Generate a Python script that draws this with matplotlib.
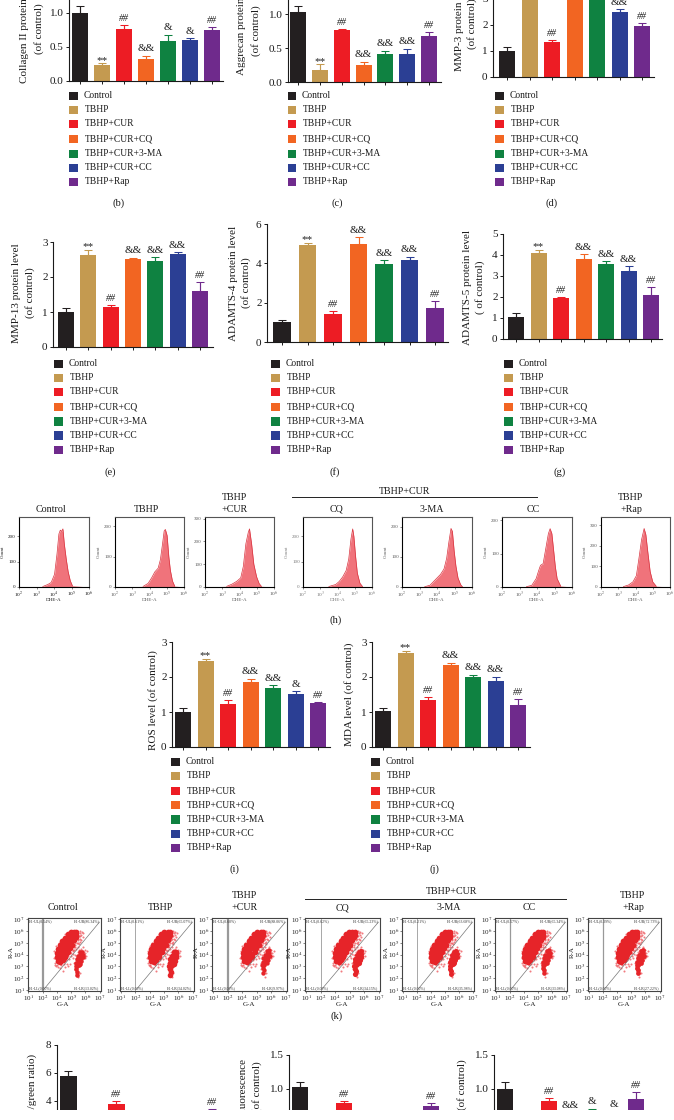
import matplotlib
matplotlib.use("Agg")
import matplotlib.pyplot as plt
from matplotlib.patches import Rectangle
from matplotlib.lines import Line2D

plt.rcParams['font.family'] = ['Liberation Serif', 'DejaVu Serif']
plt.rcParams['mathtext.fontset'] = 'stix'

W, H = 674, 1120

GROUPS = ["Control", "TBHP", "TBHP+CUR", "TBHP+CUR+CQ", "TBHP+CUR+3-MA", "TBHP+CUR+CC", "TBHP+Rap"]
COLORS = ["#231F20", "#C49A50", "#ED1C24", "#F26522", "#0F8241", "#2B3F94", "#6F2A8C"]

# bar values / error values
collagen = [1.0, .23, .77, .33, .59, .61, .75]
collagen_err = [.10, .03, .05, .04, .09, .02, .05]
aggrecan = [1.03, .18, .76, .25, .41, .41, .68]
aggrecan_err = [.09, .08, .02, .05, .05, .08, .05]
mmp3 = [1.0, 3.7, 1.32, 3.8, 3.6, 2.48, 1.95]
mmp3_err = [.14, .2, .1, .2, .2, .1, .1]
mmp13 = [1.0, 2.64, 1.13, 2.52, 2.47, 2.66, 1.6]
mmp13_err = [.11, .14, .08, .03, .09, .05, .26]
adamts4 = [1.0, 4.92, 1.41, 4.98, 3.98, 4.15, 1.75]
adamts4_err = [.12, .11, .17, .34, .17, .19, .33]
adamts5 = [1.03, 4.08, 1.93, 3.82, 3.55, 3.22, 2.1]
adamts5_err = [.21, .17, .09, .22, .16, .25, .37]
ros = [1.0, 2.46, 1.23, 1.86, 1.70, 1.52, 1.25]
ros_err = [.11, .06, .10, .09, .06, .07, .05]
mda = [1.02, 2.68, 1.33, 2.33, 2.01, 1.89, 1.19]
mda_err = [.09, .06, .11, .08, .06, .11, .17]
ratio = [5.8, 1.5, 3.79, 1.8, 2.0, 2.2, 3.3]
ratio_err = [.34, .2, .24, .2, .2, .2, .16]
fluor = [1.034, .45, .79, .5, .55, .6, .745]
fluor_err = [.073, .05, .03, .05, .05, .05, .055]
last = [1.0, .4, .82, .6, .68, .62, .86]
last_err = [.10, .05, .05, .05, .03, .05, .09]

sig_std = ['', '**', '##', '&&', '&&', '&&', '##']
sig_b = ['', '**', '##', '&&', '&', '&', '##']
sig_d = ['', '', '##', '', '', '&&', '##']
sig_i = ['', '**', '##', '&&', '&&', '&', '##']
sig_l = ['', '', '##', '', '', '', '##']
sig_n = ['', '', '##', '&&', '&', '&', '##']

# flow cytometry histograms: log10 fluorescence and counts
hist_x_control = [3.36, 3.65, 3.84, 4.03, 4.17, 4.28, 4.36, 4.43, 4.51, 4.59, 4.70, 4.81, 4.93, 5.05]
hist_y_control = [2, 10, 18, 50, 130, 210, 225, 220, 230, 170, 110, 60, 25, 5]
hist_x_tbhp = [3.63, 3.92, 4.12, 4.31, 4.5, 4.63, 4.75, 4.85, 4.92, 5.02, 5.12, 5.21, 5.33, 5.46]
hist_y_tbhp = [2, 12, 30, 50, 62, 90, 140, 185, 190, 170, 100, 55, 20, 3]
hist_x_cur = [3.26, 3.55, 3.84, 4.07, 4.22, 4.37, 4.51, 4.58, 4.7, 4.83, 4.99, 5.14, 5.27]
hist_y_cur = [3, 12, 25, 40, 90, 190, 240, 255, 190, 100, 45, 15, 3]
hist_x_cq = [3.5, 3.9, 4.1, 4.3, 4.5, 4.65, 4.78, 4.88, 4.95, 5.05, 5.15, 5.3, 5.45]
hist_y_cq = [2, 10, 22, 40, 65, 110, 190, 230, 200, 120, 55, 15, 2]
hist_x_ma = [3.3, 3.6, 4.0, 4.2, 4.4, 4.55, 4.68, 4.8, 4.88, 4.98, 5.08, 5.2, 5.35, 5.45]
hist_y_ma = [1, 6, 30, 42, 60, 95, 150, 195, 185, 120, 70, 30, 8, 1]
hist_x_cc = [3.4, 3.7, 3.95, 4.1, 4.2, 4.35, 4.5, 4.65, 4.75, 4.85, 4.95, 5.05, 5.15, 5.35]
hist_y_cc = [1, 5, 25, 50, 65, 70, 115, 160, 175, 160, 110, 60, 25, 3]
hist_x_rap = [3.3, 3.6, 3.85, 4.05, 4.2, 4.35, 4.5, 4.6, 4.7, 4.85, 5.0, 5.2]
hist_y_rap = [2, 10, 25, 55, 140, 230, 285, 255, 180, 75, 25, 4]
hist_ticks_y = [[0, 100, 200], [0, 100, 200], [0, 100, 200, 300], [0, 100, 200],
                [0, 100, 200], [0, 100, 200], [0, 100, 200, 300]]
hist_ymax = [277, 231, 307, 277, 233, 210, 341]
hist_ticks_x = [2, 3, 4, 5, 6]
hist_tick_labels = ["10$^{2}$", "10$^{3}$", "10$^{4}$", "10$^{5}$", "10$^{6}$"]

# JC-1 dot plots: representative events
core_u = [3.05, 3.25, 3.42,
          2.98, 3.2, 3.4, 3.58,
          2.98, 3.2, 3.42, 3.62, 3.78,
          3.05, 3.28, 3.5, 3.72, 3.9,
          3.2, 3.42, 3.64, 3.86, 4.06,
          3.38, 3.6, 3.82, 4.02, 4.2,
          3.55, 3.76, 3.98, 4.18, 4.32,
          3.76, 3.98, 4.2, 4.36,
          3.98, 4.2, 4.36]
core_y = [3.45, 3.4, 3.5,
          3.75, 3.72, 3.78, 3.8,
          4.1, 4.05, 4.12, 4.08, 4.2,
          4.48, 4.42, 4.5, 4.45, 4.55,
          4.8, 4.78, 4.85, 4.8, 4.85,
          5.12, 5.1, 5.18, 5.12, 5.2,
          5.42, 5.4, 5.45, 5.42, 5.5,
          5.72, 5.7, 5.75, 5.7,
          5.95, 5.95, 5.9]
halo_u = [2.85, 2.9, 2.95, 3.0, 3.05, 3.2, 3.5, 3.65, 3.75, 3.95, 4.1, 4.25, 4.35, 4.5, 4.6, 4.75, 4.45,
          4.2, 4.6, 3.9, 3.6, 3.35, 3.15, 2.95, 4.8, 4.85, 4.9, 5.0, 4.7, 4.55, 4.95, 4.3, 4.2, 4.25, 4.4,
          4.6, 4.5, 3.4, 4.1, 3.9, 4.85, 4.4, 4.65, 4.3, 4.15, 2.9, 3.1, 3.8, 4.0, 4.5,
          4.42, 4.52, 4.62, 4.72, 4.82, 4.5, 4.6, 4.7, 4.4, 4.5, 4.35, 4.45, 4.3, 4.2, 4.1, 4.55, 4.75, 4.95,
          2.8, 2.82, 2.88, 3.0, 3.3, 3.55, 3.7, 3.85, 4.0, 4.15, 5.05, 5.1]
halo_y = [3.3, 4.0, 3.0, 4.4, 2.95, 2.9, 3.2, 3.5, 3.9, 4.4, 4.8, 5.0, 5.5, 5.8, 6.0, 5.95, 5.2,
          4.4, 5.6, 6.0, 5.75, 5.35, 5.0, 4.7, 4.6, 4.2, 3.9, 4.1, 4.45, 4.9, 4.4, 4.0, 3.3, 2.8, 2.5,
          2.4, 2.1, 2.6, 3.7, 3.2, 5.8, 5.6, 5.3, 4.6, 4.3, 3.6, 3.3, 3.0, 4.1, 5.0,
          5.75, 5.55, 5.85, 5.65, 5.5, 5.35, 5.05, 5.25, 4.95, 4.65, 4.45, 4.25, 4.85, 4.6, 4.4, 4.35, 4.3, 3.7,
          3.7, 4.3, 3.1, 3.15, 3.1, 2.95, 3.2, 3.65, 3.85, 4.05, 3.85, 4.3]
low_u = [4.32, 4.42, 4.52, 4.62, 4.35, 4.47, 4.6, 4.72, 4.4, 4.55, 4.68, 4.82, 4.5, 4.65, 4.8, 4.62, 4.76, 4.36, 4.42, 4.4]
low_y = [3.0, 3.05, 3.15, 3.2, 3.3, 3.35, 3.42, 3.45, 3.6, 3.65, 3.7, 3.75, 3.9, 3.95, 4.0, 4.2, 4.25, 2.75, 2.55, 2.3]
panel_du = [0.0, 0.05, 0.08, 0.0, 0.05, 0.05, 0.05]
low_dy = [0.0, 0.0, 0.1, 0.05, 0.05, 0.1, 0.1]
quad_ul = ["0.54", "0.61", "0.60", "0.62", "0.21", "0.57", "0.39"]
quad_ur = ["86.34", "65.07", "88.06", "65.23", "63.68", "65.34", "72.73"]
quad_ll = ["0.00", "0.00", "0.00", "0.00", "0.00", "0.00", "0.00"]
quad_lr = ["13.02", "34.02", "9.97", "34.15", "35.98", "33.08", "27.22"]
dot_x_ticks = [1, 2, 3, 4, 5, 6]
dot_x_labels = ["10$^{1}$", "10$^{2}$", "10$^{4}$", "10$^{5}$", "10$^{6}$", "10$^{7}$"]
dot_y_ticks = [1, 2, 3, 4, 5, 6, 7]

fig = plt.figure(figsize=(W / 100, H / 100), dpi=100, facecolor='white')


def T(x, y, s, size=7.3, ha='center', va='center', **kw):
    return fig.text(x / W, 1 - y / H, s, fontsize=size, ha=ha, va=va, color=kw.pop('color', '#1a1a1a'), **kw)


def px_axes(x0, x1, ytop, ybot):
    return fig.add_axes([x0 / W, 1 - ybot / H, (x1 - x0) / W, (ybot - ytop) / H])


def legend(xm, xt, rows):
    for i, (g, c, y) in enumerate(zip(GROUPS, COLORS, rows)):
        fig.add_artist(Rectangle((xm / W, 1 - (y + 4.2) / H), 8.5 / W, 8.4 / H, transform=fig.transFigure,
                                 facecolor=c, edgecolor='none'))
        T(xt - (1.3 if i == 0 else 0), y, g, size=6.85, ha='left')


def barpanel(values, errors, sig, left, right, c0, c6, ytop, ybot, ymax, ticks, fmt, bw=16):
    ax = px_axes(left, right, ytop, ybot)
    sp = (c6 - c0) / 6
    ax.set_xlim((left - c0) / sp, (right - c0) / sp)
    ax.set_ylim(0, ymax)
    x = list(range(7))
    ax.bar(x, values, width=bw / sp, color=COLORS, edgecolor='none', zorder=2)
    for xi, v, e, c in zip(x, values, errors, COLORS):
        ax.errorbar([xi], [v], yerr=[[0], [e]], fmt='none', ecolor=c, elinewidth=0.85,
                    capsize=2.9, capthick=0.75, zorder=1)
    for s in ('top', 'right'):
        ax.spines[s].set_visible(False)
    for s in ('left', 'bottom'):
        ax.spines[s].set_linewidth(0.8)
        ax.spines[s].set_color('#1a1a1a')
    ax.set_xticks(x)
    ax.set_xticklabels([])
    ax.set_yticks(ticks)
    ax.set_yticklabels([fmt.format(t) for t in ticks], fontsize=8)
    ax.tick_params(axis='both', length=2.4, width=0.7, pad=1.5, colors='#1a1a1a')
    ax.patch.set_alpha(0)
    for i, s in enumerate(sig):
        if not s:
            continue
        off = {'**': 3.2, '##': 6.5, '&&': 7, '&': 7}[s]
        size = {'**': 8, '##': 7.2, '&&': 8, '&': 8}[s]
        ax.annotate(s, (i, values[i] + errors[i]), xytext=(0, off * 0.72), textcoords='offset points',
                    ha='center', va='center', fontsize=size,
                    style='italic' if s == '##' else 'normal', color='#222222')
    return ax


# ---- top row
barpanel(collagen, collagen_err, sig_b, 69, 223, 80, 212, -21, 81, 1.5, [0, .5, 1.0, 1.5], "{:.1f}")
barpanel(aggrecan, aggrecan_err, sig_std, 288, 441, 298, 429, -20, 82, 1.5, [0, .5, 1.0, 1.5], "{:.1f}")
barpanel(mmp3, mmp3_err, sig_d, 493, 654, 507, 642, -28, 77, 4, [0, 1, 2, 3, 4], "{:d}")
rows_top = [96, 110, 124, 139, 154, 168, 182]
legend(69, 85, rows_top)
legend(287.5, 303, rows_top)
legend(495, 511, rows_top)
T(119, 203, "(b)", 7.6)
T(337, 203, "(c)", 7.6)
T(552, 203, "(d)", 7.6)
T(25, 28, "Collagen II protein level", 8, rotation=90)
T(39, 29, "(of control)", 8, rotation=90)
T(242, 24, "Aggrecan protein level", 8, rotation=90)
T(256, 31, "(of control)", 8, rotation=90)
T(460, 24, "MMP-3 protein level", 8, rotation=90)
T(472, 24, "(of control)", 8, rotation=90)

# ---- second row
barpanel(mmp13, mmp13_err, sig_std, 53, 213, 66, 200, 242, 347, 3, [0, 1, 2, 3], "{:d}")
barpanel(adamts4, adamts4_err, sig_std, 267, 448, 282, 435, 224, 342, 6, [0, 2, 4, 6], "{:d}", bw=17.5)
barpanel(adamts5, adamts5_err, sig_std, 503, 662, 516, 651, 234, 339, 5, [0, 1, 2, 3, 4, 5], "{:d}")
rows_mid = [364, 378, 392, 407, 421.5, 435.5, 450]
legend(54, 70, rows_mid)
legend(271, 287, rows_mid)
legend(504, 520, rows_mid)
T(110, 472, "(e)", 7.6)
T(335, 472, "(f)", 7.6)
T(560, 472, "(g)", 7.6)
T(17, 293, "MMP-13 protein level", 8, rotation=90)
T(30, 293, "(of control)", 8, rotation=90)
T(233, 283, "ADAMTS-4 protein level", 8, rotation=90)
T(246, 283, "(of control)", 8, rotation=90)
T(467, 287, "ADAMTS-5 protein level", 8, rotation=90)
T(480, 287, "( of control)", 8, rotation=90)

# ---- histograms
hist_boxes = [(19, 89), (115, 184), (205, 274), (303, 372), (402, 472), (502, 572), (601, 670)]
hist_x = [hist_x_control, hist_x_tbhp, hist_x_cur, hist_x_cq, hist_x_ma, hist_x_cc, hist_x_rap]
hist_y = [hist_y_control, hist_y_tbhp, hist_y_cur, hist_y_cq, hist_y_ma, hist_y_cc, hist_y_rap]
hist_text = ['#111111', '#555555', '#555555', '#777777', '#555555', '#555555', '#555555']
for (x0, x1), hx, hy, yt, ym, tc in zip(hist_boxes, hist_x, hist_y, hist_ticks_y, hist_ymax, hist_text):
    ax = px_axes(x0, x1, 517, 587)
    ax.fill_between([2] + hx + [6], [0] + hy + [0], color='#F0737B', linewidth=0)
    ax.plot(hx, hy, color='#D9333F', lw=0.5)
    ax.set_xlim(2, 6)
    ax.set_ylim(0, ym)
    ax.set_xticks(hist_ticks_x)
    ax.set_xticklabels(hist_tick_labels, fontsize=3.8, color=tc)
    ax.set_yticks(yt)
    ax.set_yticklabels([str(t) for t in yt], fontsize=3.6, color=tc)
    ax.tick_params(length=1.5, width=0.4, pad=0.8, colors='#333333')
    for lab in ax.get_xticklabels() + ax.get_yticklabels():
        lab.set_color(tc)
    for s in ax.spines.values():
        s.set_linewidth(0.8)
    for s in ('top', 'right'):
        ax.spines[s].set_color('#555555')
    T(x0 - 16, 552, "Count", 3.6, rotation=90, color=tc)
    T((x0 + x1) / 2, 600, "DHE-A", 3.6, color=tc)

for x, y, s in [(51, 509, "Control"), (146, 509, "TBHP"), (235, 497, "TBHP"), (235, 509, "+CUR"),
                (337, 509, "CQ"), (432, 509, "3-MA"), (533, 509, "CC"), (631, 497, "TBHP"), (631, 509, "+Rap"),
                (405, 491, "TBHP+CUR")]:
    T(x, y, s, 7.2)
fig.add_artist(Line2D([292 / W, 537 / W], [1 - 497 / H] * 2, color='#222222', lw=0.7))
T(336, 620, "(h)", 7.6)

# ---- ROS / MDA
barpanel(ros, ros_err, sig_i, 172, 330, 183, 318, 642, 747, 3, [0, 1, 2, 3], "{:d}")
barpanel(mda, mda_err, sig_std, 372, 530, 383, 518, 642, 747, 3, [0, 1, 2, 3], "{:d}")
rows_low = [762, 776, 791, 805, 819.5, 834, 848]
legend(171, 187, rows_low)
legend(371, 387, rows_low)
T(234, 869, "(i)", 7.6)
T(434, 869, "(j)", 7.6)
T(153, 700, "ROS level (of control)", 8, rotation=90)
T(349, 694, "MDA level (of control)", 8, rotation=90)

# ---- dot plots
dot_boxes = [(27.5, 101), (120, 194), (212, 287), (305, 380), (402, 474), (495, 567), (588, 661)]
vline_w = [1.6, 0.6, 1.6, 0.6, 0.6, 0.9, 0.9]
low_size = [11, 16, 10, 14, 13, 11, 12]
for i, (x0, x1) in enumerate(dot_boxes):
    ax = px_axes(x0, x1, 918, 990.5)
    d = panel_du[i]
    ax.scatter([u + d for u in halo_u], halo_y, s=2.2, color='#EE5A60', linewidths=0, alpha=0.8)
    ax.scatter([u + d for u in core_u], core_y, s=17, color='#E62429', linewidths=0)
    ax.scatter([u + d for u in low_u], [y + low_dy[i] for y in low_y], s=low_size[i], color='#E62429', linewidths=0)
    ax.axvline(2.0, color='#999999', lw=vline_w[i])
    ax.plot([2.08, 5.99], [1.05, 6.75], color='#777777', lw=0.5)
    ax.set_xlim(0.93, 6.1)
    ax.set_ylim(0.95, 7.1)
    ax.set_xticks(dot_x_ticks)
    ax.set_xticklabels(dot_x_labels, fontsize=5)
    ax.set_yticks(dot_y_ticks)
    ax.set_yticklabels([f"10$^{{{t}}}$" for t in dot_y_ticks], fontsize=5)
    ax.tick_params(length=1.3, width=0.4, pad=0.8, colors='#222222')
    for s in ax.spines.values():
        s.set_linewidth(0.8)
        s.set_color('#444444')
    for txt, xx, yy, ha in [(f"H1-UL({quad_ul[i]}%)", 1.03, 6.82, 'left'), (f"H1-UR({quad_ur[i]}%)", 6.0, 6.82, 'right'),
                            (f"H1-LL({quad_ll[i]}%)", 1.03, 1.13, 'left'), (f"H1-LR({quad_lr[i]}%)", 6.0, 1.13, 'right')]:
        ax.text(xx, yy, txt, fontsize=2.8, ha=ha, va='center', color='#333333')
    T(x0 - 16, 952, "R-A", 5, rotation=90)
    T((x0 + x1) / 2 - 1, 1005, "G-A", 5)

for x, y, s in [(63, 908, "Control"), (161, 908, "TBHP"), (245, 895, "TBHP"), (245, 908, "+CUR"),
                (343, 908, "CQ"), (449, 908, "3-MA"), (529, 908, "CC"), (633, 895, "TBHP"), (633, 908, "+Rap"),
                (452, 891, "TBHP+CUR")]:
    T(x, y, s, 7.2)
fig.add_artist(Line2D([305 / W, 566 / W], [1 - 899 / H] * 2, color='#222222', lw=0.7))
T(337, 1016, "(k)", 7.6)

# ---- bottom row, cut by the page edge
barpanel(ratio, ratio_err, sig_l, 57, 224, 68, 212, 1045, 1157, 8, [0, 2, 4, 6, 8], "{:d}", bw=17)
barpanel(fluor, fluor_err, sig_l, 289, 445, 300, 431, 1055, 1157, 1.5, [0, .5, 1.0, 1.5], "{:.1f}")
barpanel(last, last_err, sig_n, 494, 650, 505, 636, 1055, 1157, 1.5, [0, .5, 1.0, 1.5], "{:.1f}")
T(32, 1054, "JC-1 fluorescence (red/green ratio)", 8, rotation=90, va='top')
T(244, 1059, "JC-1 fluorescence", 8, rotation=90, va='top')
T(257, 1061, "(of control)", 8, rotation=90, va='top')
T(462, 1059, "(of control)", 8, rotation=90, va='top')
cover = Rectangle((0, 0), 1, 10 / H, transform=fig.transFigure, facecolor='white', edgecolor='none', zorder=50)
fig.add_artist(cover)

fig.savefig("out.png", dpi=100)
